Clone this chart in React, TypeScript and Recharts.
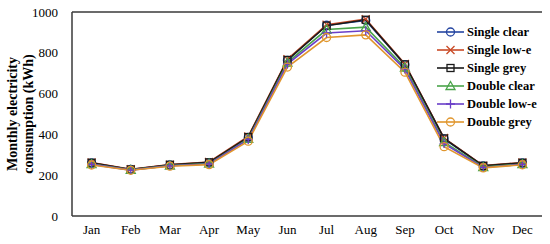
import { LineChart, Line, XAxis, YAxis, ReferenceLine } from "recharts";

const months = ["Jan", "Feb", "Mar", "Apr", "May", "Jun", "Jul", "Aug", "Sep", "Oct", "Nov", "Dec"];
const yTicks = [0, 200, 400, 600, 800, 1000];

const singleClear = [260, 228, 250, 262, 385, 763, 935, 958, 742, 378, 245, 260];
const singleLowE = [262, 229, 252, 265, 390, 768, 938, 965, 745, 382, 247, 262];
const singleGrey = [261, 228, 251, 263, 387, 765, 933, 962, 743, 380, 246, 261];
const doubleClear = [255, 226, 247, 257, 378, 752, 914, 926, 728, 362, 240, 255];
const doubleLowE = [253, 225, 246, 255, 375, 745, 897, 908, 720, 355, 238, 253];
const doubleGrey = [250, 224, 244, 252, 367, 730, 875, 888, 705, 340, 236, 251];

type Marker = "circle" | "x" | "square" | "triangle" | "plus";

const series: { key: string; name: string; values: number[]; color: string; marker: Marker }[] = [
  { key: "sc", name: "Single clear", values: singleClear, color: "#2444a0", marker: "circle" },
  { key: "sl", name: "Single low-e", values: singleLowE, color: "#c94a26", marker: "x" },
  { key: "sg", name: "Single grey", values: singleGrey, color: "#1a1a1a", marker: "square" },
  { key: "dc", name: "Double clear", values: doubleClear, color: "#4aa44a", marker: "triangle" },
  { key: "dl", name: "Double low-e", values: doubleLowE, color: "#6a3fc8", marker: "plus" },
  { key: "dg", name: "Double grey", values: doubleGrey, color: "#e0962e", marker: "circle" },
];

const data = months.map((m, i) => {
  const row: Record<string, string | number> = { month: m };
  series.forEach((s) => (row[s.key] = s.values[i]));
  return row;
});

const FONT = "'Liberation Serif', 'Times New Roman', serif";

function MarkerShape({ kind, cx, cy, color }: { kind: Marker; cx: number; cy: number; color: string }) {
  const r = 4;
  const sw = 1.3;
  if (kind === "circle")
    return <circle cx={cx} cy={cy} r={r} fill="none" stroke={color} strokeWidth={sw} />;
  if (kind === "square")
    return <rect x={cx - 3.5} y={cy - 3.5} width={7} height={7} fill="none" stroke={color} strokeWidth={sw} />;
  if (kind === "triangle")
    return (
      <polygon
        points={`${cx},${cy - 4.5} ${cx + 4.5},${cy + 3.5} ${cx - 4.5},${cy + 3.5}`}
        fill="none"
        stroke={color}
        strokeWidth={sw}
      />
    );
  if (kind === "x")
    return (
      <path
        d={`M${cx - 4},${cy - 4}L${cx + 4},${cy + 4}M${cx - 4},${cy + 4}L${cx + 4},${cy - 4}`}
        stroke={color}
        strokeWidth={sw}
      />
    );
  return (
    <path d={`M${cx - 4.5},${cy}L${cx + 4.5},${cy}M${cx},${cy - 4.5}L${cx},${cy + 4.5}`} stroke={color} strokeWidth={sw} />
  );
}

function LegendBox() {
  return (
    <div
      style={{
        position: "absolute",
        left: 437,
        top: 23,
        fontFamily: FONT,
        fontWeight: "bold",
        fontSize: 12.5,
        color: "#000",
      }}
    >
      {series.map((s) => (
        <div key={s.key} style={{ display: "flex", alignItems: "center", height: 18 }}>
          <svg width={29} height={18} style={{ marginRight: 1 }}>
            <line x1={0} y1={9} x2={27} y2={9} stroke={s.color} strokeWidth={1.6} />
            <MarkerShape kind={s.marker} cx={13.5} cy={9} color={s.color} />
          </svg>
          <span style={{ whiteSpace: "nowrap" }}>{s.name}</span>
        </div>
      ))}
    </div>
  );
}

function YTitle() {
  return (
    <svg width={40} height={244} style={{ position: "absolute", left: 0, top: 0 }}>
      <text
        transform="translate(0,114) rotate(-90)"
        textAnchor="middle"
        fontFamily={FONT}
        fontWeight="bold"
        fontSize={14}
        fill="#000"
      >
        <tspan x={0} y={17}>Monthly electricity</tspan>
        <tspan x={0} y={33}>consumption (kWh)</tspan>
      </text>
    </svg>
  );
}

export default function App() {
  return (
    <div style={{ position: "absolute", left: 0, top: 0, width: 550, height: 244, background: "#fff" }}>
      <LineChart width={550} height={244} data={data} margin={{ top: 12, right: 8, bottom: 0, left: 0 }}>
        <XAxis
          dataKey="month"
          scale="band"
          tickLine={false}
          axisLine={{ stroke: "#3a3a3a", strokeWidth: 1.5 }}
          tick={{ fontSize: 13, fill: "#000", fontFamily: FONT }}
          tickMargin={3}
          height={28}
          interval={0}
        />
        <YAxis
          domain={[0, 1000]}
          ticks={yTicks}
          interval={0}
          tickLine={false}
          axisLine={{ stroke: "#3a3a3a", strokeWidth: 1.5 }}
          tick={{ fontSize: 13, fill: "#000", fontFamily: FONT }}
          tickMargin={8}
          width={72}
        />
        <YAxis
          yAxisId="right"
          orientation="right"
          width={0}
          tick={false}
          tickLine={false}
          axisLine={{ stroke: "#3a3a3a", strokeWidth: 1.5 }}
        />
        <ReferenceLine y={1000} stroke="#3a3a3a" strokeWidth={1.5} />
        {series.map((s) => (
          <Line
            key={s.key}
            dataKey={s.key}
            name={s.name}
            stroke={s.color}
            strokeWidth={1.6}
            isAnimationActive={false}
            dot={(p: any) => <MarkerShape key={`${s.key}-${p.index}`} kind={s.marker} cx={p.cx} cy={p.cy} color={s.color} />}
          />
        ))}
      </LineChart>
      <YTitle />
      <LegendBox />
    </div>
  );
}
